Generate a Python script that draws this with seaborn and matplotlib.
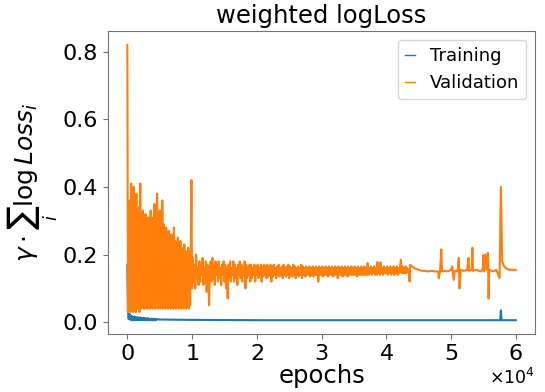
import numpy as np
import pandas as pd
import matplotlib
matplotlib.use("Agg")
import matplotlib.pyplot as plt
import seaborn as sns

# ---------------- data ----------------
# Training loss: dense early part (every 100 epochs), then sparse samples
train_early_step = 100
train_early = [0.17, 0.03, 0.01, 0.025, 0.008, 0.02, 0.007, 0.018, 0.006, 0.016,
               0.007, 0.017, 0.006, 0.015, 0.007, 0.014, 0.006, 0.015, 0.006, 0.013,
               0.006, 0.014, 0.006, 0.012, 0.006, 0.013, 0.006, 0.012, 0.006, 0.011,
               0.006, 0.012, 0.006, 0.011, 0.006, 0.010, 0.006, 0.011, 0.006, 0.010,
               0.006, 0.010, 0.006, 0.009, 0.006, 0.009]
train_late_epochs = [5000, 10000, 20000, 30000, 40000, 43500, 50000, 57600, 57700, 57800, 60000]
train_late = [0.008, 0.007, 0.006, 0.006, 0.006, 0.006, 0.006, 0.006, 0.035, 0.006, 0.006]

# Validation loss: noisy start (every 100 epochs)
val_early_step = 100
val_early = [0.82, 0.03, 0.30, 0.04, 0.36, 0.03, 0.41, 0.04, 0.33, 0.03,
             0.40, 0.05, 0.31, 0.03, 0.38, 0.04, 0.30, 0.05, 0.34, 0.03,
             0.41, 0.04, 0.29, 0.05, 0.33, 0.04, 0.30, 0.04, 0.32, 0.05,
             0.28, 0.04, 0.31, 0.05, 0.29, 0.04, 0.33, 0.05, 0.30, 0.04,
             0.31, 0.05, 0.35, 0.04, 0.29, 0.05, 0.38, 0.04, 0.31, 0.05,
             0.33, 0.04, 0.30, 0.05, 0.36, 0.04, 0.29, 0.05, 0.27, 0.04,
             0.28, 0.05, 0.25, 0.04, 0.27, 0.05, 0.24, 0.04, 0.26, 0.05,
             0.23, 0.04, 0.28, 0.05, 0.24, 0.04, 0.22, 0.05, 0.25, 0.04,
             0.21, 0.05, 0.24, 0.04, 0.22, 0.05, 0.20, 0.04, 0.23, 0.05,
             0.21, 0.04, 0.20, 0.05, 0.22, 0.04, 0.21, 0.05, 0.20, 0.42]

# Validation loss: settling band (every 125 epochs from 10000)
val_mid_start = 10000
val_mid_step = 125
val_mid = [0.10, 0.19, 0.12, 0.17, 0.10, 0.20, 0.13, 0.16, 0.11, 0.18,
           0.12, 0.17, 0.14, 0.19, 0.11, 0.16, 0.12, 0.18, 0.09, 0.17,
           0.13, 0.05, 0.16, 0.18, 0.12, 0.19, 0.13, 0.17, 0.11, 0.18,
           0.14, 0.17, 0.12, 0.18, 0.13, 0.16, 0.11, 0.17, 0.14, 0.18,
           0.12, 0.17, 0.10, 0.16, 0.07, 0.17, 0.13, 0.18, 0.12, 0.16,
           0.14, 0.18, 0.12, 0.17, 0.13, 0.16, 0.11, 0.17, 0.14, 0.18,
           0.13, 0.17, 0.12, 0.16, 0.14, 0.18, 0.10, 0.17, 0.13, 0.16,
           0.14, 0.17, 0.12, 0.17, 0.13, 0.16, 0.14, 0.17, 0.12, 0.165,
           0.14, 0.17, 0.13, 0.16, 0.14, 0.17, 0.12, 0.165, 0.135, 0.17,
           0.14, 0.165, 0.13, 0.17, 0.135, 0.16, 0.14, 0.17, 0.12, 0.165,
           0.135, 0.17, 0.14, 0.16, 0.13, 0.165, 0.14, 0.17, 0.135, 0.16,
           0.14, 0.165, 0.13, 0.17, 0.14, 0.16, 0.135, 0.165, 0.14, 0.17,
           0.13, 0.165, 0.14, 0.16, 0.135, 0.17, 0.14, 0.165, 0.13, 0.16,
           0.14, 0.165, 0.135, 0.16, 0.14, 0.17, 0.13, 0.165, 0.14, 0.16,
           0.135, 0.165, 0.14, 0.16, 0.14, 0.165, 0.135, 0.16, 0.14, 0.165,
           0.135, 0.16, 0.14, 0.165, 0.14, 0.16, 0.12, 0.165, 0.14, 0.16,
           0.14, 0.165, 0.135, 0.16, 0.14, 0.165, 0.14, 0.16, 0.135, 0.165,
           0.14, 0.16, 0.14, 0.165, 0.135, 0.16, 0.14, 0.165, 0.14, 0.16,
           0.13, 0.165, 0.14, 0.16, 0.14, 0.165, 0.135, 0.16, 0.14, 0.165,
           0.14, 0.16, 0.135, 0.165, 0.14, 0.16, 0.14, 0.165, 0.14, 0.16,
           0.14, 0.165, 0.14, 0.16, 0.135, 0.165, 0.14, 0.16, 0.14, 0.165,
           0.14, 0.16, 0.14, 0.165, 0.14, 0.16, 0.14, 0.175, 0.14, 0.16,
           0.145, 0.165, 0.14, 0.16, 0.145, 0.165, 0.14, 0.16, 0.14, 0.178,
           0.145, 0.165, 0.14, 0.177, 0.145, 0.16, 0.14, 0.165, 0.145, 0.16,
           0.145, 0.165, 0.14, 0.16, 0.145, 0.165, 0.14, 0.16, 0.145, 0.165,
           0.14, 0.16, 0.145, 0.165, 0.14, 0.16, 0.145, 0.165, 0.185, 0.145,
           0.165, 0.145, 0.16, 0.145, 0.165, 0.145, 0.16, 0.15]

# Validation loss: late phase with isolated spikes
val_late_epochs = [43500, 43600, 43700, 44000, 44500, 45000, 45500, 46000, 46500, 47000,
                   47500, 48000, 48100, 48300, 48500, 48600, 49000, 49500, 50000, 50200,
                   50400, 50600, 51000, 51200, 51300, 51500, 52000, 52500, 52700, 52800,
                   53200, 53300, 53400, 54000, 54500, 54900, 55000, 55100, 55300, 55500,
                   55700, 55800, 55900, 56500, 57000, 57500, 57700, 57900, 58200, 58600,
                   59000, 59500, 60000]
val_late = [0.15, 0.12, 0.17, 0.165, 0.158, 0.155, 0.152, 0.152, 0.15, 0.152,
            0.15, 0.15, 0.13, 0.15, 0.215, 0.15, 0.152, 0.15, 0.155, 0.165,
            0.125, 0.152, 0.15, 0.19, 0.10, 0.155, 0.152, 0.155, 0.19, 0.152,
            0.155, 0.22, 0.152, 0.155, 0.15, 0.155, 0.198, 0.15, 0.20, 0.155,
            0.205, 0.07, 0.155, 0.15, 0.155, 0.13, 0.40, 0.18, 0.165, 0.158,
            0.155, 0.155, 0.155]

series_names = ["Training", "Validation"]
colors = ["#1f77b4", "#ff7f0e"]

# ---------------- assemble ----------------
tr_x = list(np.arange(len(train_early)) * train_early_step) + train_late_epochs
tr_y = train_early + train_late
va_x = (list(np.arange(len(val_early)) * val_early_step)
        + list(val_mid_start + np.arange(len(val_mid)) * val_mid_step)
        + val_late_epochs)
va_y = val_early + val_mid + val_late

df = pd.DataFrame({
    "epochs": tr_x + va_x,
    "loss": tr_y + va_y,
    "series": [series_names[0]] * len(tr_x) + [series_names[1]] * len(va_x),
})

# ---------------- plot ----------------
fig = plt.figure(figsize=(5.45, 3.92), dpi=100)
ax = fig.add_subplot(111)
fig.subplots_adjust(left=0.198, right=0.982, top=0.921, bottom=0.148)

sns.lineplot(data=df, x="epochs", y="loss", hue="series", hue_order=series_names,
             palette=colors, estimator=None, sort=False, linewidth=1.5, ax=ax)

ax.set_title("weighted logLoss", fontsize=17.5)
ax.set_xlabel("epochs", fontsize=17.5, labelpad=0)
ax.set_ylabel(r"$\gamma \cdot \sum_i \log Loss_i$", fontsize=18, labelpad=2)
ax.tick_params(axis="both", labelsize=16, color="0.45")
ax.set_yticks([0.0, 0.2, 0.4, 0.6, 0.8])
ax.set_xticks([0, 10000, 20000, 30000, 40000, 50000, 60000])
ax.ticklabel_format(axis="x", style="sci", scilimits=(0, 0), useMathText=True)
ax.xaxis.get_offset_text().set_fontsize(12.5)
for sp in ax.spines.values():
    sp.set_edgecolor("0.45")

leg = ax.legend(loc="upper right", fontsize=13, handlelength=0.55)
for line in leg.get_lines():
    line.set_linewidth(1.0)

fig.savefig("out.png", dpi=100)
